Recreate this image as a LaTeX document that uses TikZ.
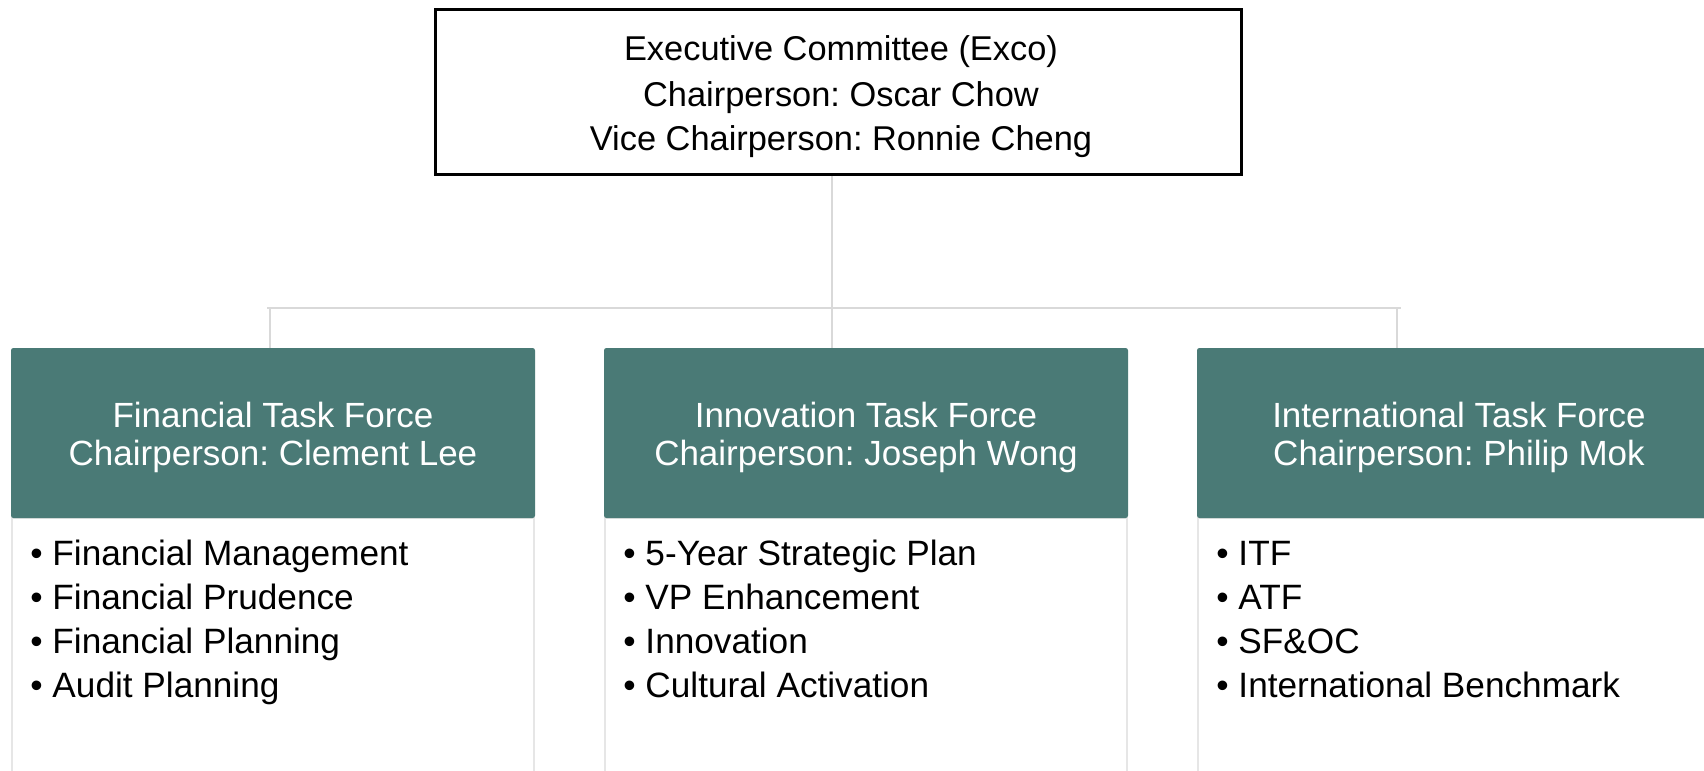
\documentclass[tikz,border=0pt]{standalone}
\usepackage{fontspec}
\setmainfont{Liberation Sans}
\frenchspacing
\definecolor{teal1}{HTML}{4A7A76}
\definecolor{conn}{HTML}{D9D9D9}
\definecolor{bodyline}{HTML}{E6E6E6}
\tikzset{
  x=0.5pt, y=-0.5pt,
  excobox/.style={draw=black, line width=1.65pt, fill=white, minimum width=402.9pt, minimum height=82.4pt, inner sep=0pt},
  headbox/.style={fill=teal1, draw=none, rounded corners=1.2pt, minimum width=262pt, minimum height=85pt, inner sep=0pt},
  bodybox/.style={fill=white, draw=bodyline, line width=1pt, minimum width=261pt, minimum height=141pt, inner sep=0pt},
  excotext/.style={anchor=base, inner sep=0pt, text=black, font=\fontsize{17.2pt}{20pt}\selectfont\frenchspacing},
  headtext/.style={anchor=base, inner sep=0pt, text=white, font=\fontsize{17.5pt}{20pt}\selectfont\frenchspacing},
  itemtext/.style={anchor=base west, inner sep=0pt, text=black, font=\fontsize{17.6pt}{20pt}\selectfont\frenchspacing},
  connector/.style={draw=conn, line width=1.2pt},
}
\begin{document}
\begin{tikzpicture}
\useasboundingbox (0,0) rectangle (1704,771);
\clip (0,0) rectangle (1704,771);
\fill[white] (0,0) rectangle (1704,771);

% connector points
\coordinate (busL) at (267,308);
\coordinate (busR) at (1401,308);
\coordinate (tapL) at (270,308);
\coordinate (tapC) at (832,308);
\coordinate (tapR) at (1397,308);

% top box
\node[excobox] (exco) at (838.5,92) {};
\node[excotext] (exco1) at (841,60.7) {Executive Committee (Exco)};
\node[excotext] (exco2) at (841,106) {Chairperson: Oscar Chow};
\node[excotext] (exco3) at (841,150) {Vice Chairperson: Ronnie Cheng};

% bodies
\node[bodybox] (finb) at (273,659) {};
\node[bodybox] (innb) at (866,659) {};
\node[bodybox] (intb) at (1459,659) {};

% headers
\node[headbox] (fin) at (273,433) {};
\node[headbox] (inn) at (866,433) {};
\node[headbox] (int) at (1459,433) {};

\draw[connector] (exco.south -| tapC) -- (tapC);
\draw[connector] (busL) -- (busR);
\draw[connector] (tapL) -- (tapL |- fin.north);
\draw[connector] (tapC) -- (tapC |- inn.north);
\draw[connector] (tapR) -- (tapR |- int.north);

\node[headtext] (fin1) at (273,427) {Financial Task Force};
\node[headtext] (fin2) at (273,465) {Chairperson: Clement Lee};
\node[headtext] (inn1) at (866,427) {Innovation Task Force};
\node[headtext] (inn2) at (866,465) {Chairperson: Joseph Wong};
\node[headtext] (int1) at (1459,427) {International Task Force};
\node[headtext] (int2) at (1459,465) {Chairperson: Philip Mok};

% items
\node[itemtext] (fa) at (30,565) {• Financial Management};
\node[itemtext] (fb) at (30,609.3) {• Financial Prudence};
\node[itemtext] (fc) at (30,653.6) {• Financial Planning};
\node[itemtext] (fd) at (30,697.9) {• Audit Planning};

\node[itemtext] (ia) at (623,565) {• 5-Year Strategic Plan};
\node[itemtext] (ib) at (623,609.3) {• VP Enhancement};
\node[itemtext] (ic) at (623,653.6) {• Innovation};
\node[itemtext] (id) at (623,697.9) {• Cultural Activation};

\node[itemtext] (na) at (1216,565) {• ITF};
\node[itemtext] (nb) at (1216,609.3) {• ATF};
\node[itemtext] (nc) at (1216,653.6) {• SF\&OC};
\node[itemtext] (nd) at (1216,697.9) {• International Benchmark};
\end{tikzpicture}
\end{document}
